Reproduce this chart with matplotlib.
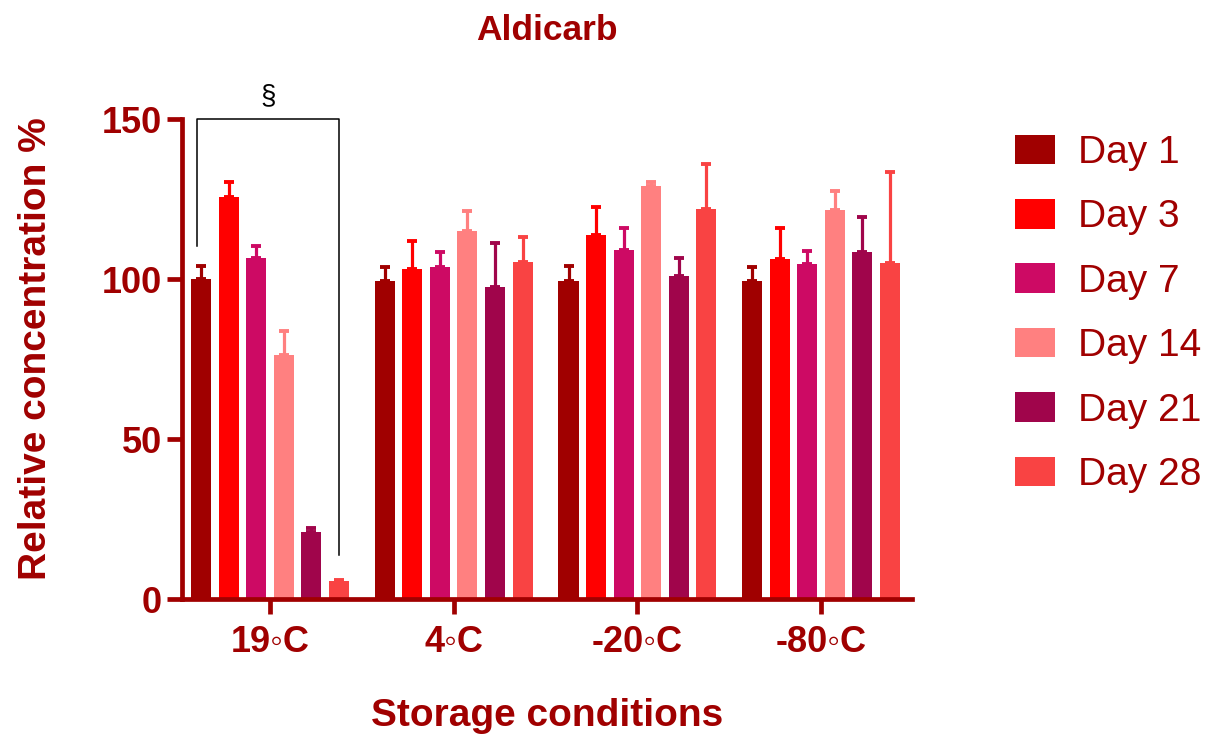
import numpy as np
import matplotlib.pyplot as plt

# storage temperatures (x groups) and sampling days (series)
conditions = ['19\u25e6C', '4\u25e6C', '-20\u25e6C', '-80\u25e6C']
days = ['Day 1', 'Day 3', 'Day 7', 'Day 14', 'Day 21', 'Day 28']

# mean relative concentration (%) per day, one value per condition
day1 = [100.0, 99.5, 99.5, 99.5]
day3 = [125.6, 103.2, 113.8, 106.2]
day7 = [106.6, 103.8, 109.0, 104.7]
day14 = [76.3, 115.0, 129.2, 121.6]
day21 = [20.8, 97.6, 101.0, 108.3]
day28 = [5.6, 105.2, 122.0, 105.0]

# upper error (SD) per day
err1 = [4.0, 4.3, 4.6, 4.2]
err3 = [4.6, 8.7, 8.8, 9.6]
err7 = [3.8, 4.5, 6.9, 4.0]
err14 = [7.4, 6.4, 1.2, 6.0]
err21 = [1.5, 13.7, 5.6, 11.0]
err28 = [0.5, 8.0, 14.0, 28.5]

means = [day1, day3, day7, day14, day21, day28]
errs = [err1, err3, err7, err14, err21, err28]
colors = ['#A00000', '#FF0000', '#CD0A64', '#FF8080', '#A0054B', '#F94343']
dark = '#A00000'

plt.rcParams['font.family'] = ['Liberation Sans', 'DejaVu Sans']

fig = plt.figure(figsize=(12.16, 7.36), dpi=100)
ax = fig.add_axes([0.1497, 0.1861, 0.6003, 0.6522])

x = np.arange(len(conditions))
step = 0.15
width = 0.109

for i in range(len(days)):
    pos = x + (i - 2.5) * step
    ax.bar(pos, means[i], width, color=colors[i], label=days[i], zorder=2)
    ax.errorbar(pos, means[i], yerr=[np.zeros(len(x)), errs[i]], fmt='none',
                ecolor=colors[i], elinewidth=2.3, capsize=3.6, capthick=2.8,
                zorder=1)

# significance bracket over the 19C group
left = -0.397
right = 2.5 * step
ax.plot([left, left, right, right], [110.2, 150, 150, 13.8], color='black',
        lw=1.1, clip_on=False, zorder=3)
ax.text(-0.01, 157, '\u00a7', ha='center', va='center', fontsize=20,
        color='black', clip_on=False)

ax.set_xlim(-0.479, 3.495)
ax.set_ylim(0, 150)
ax.set_yticks([0, 50, 100, 150])
ax.set_xticks(x)
ax.set_xticklabels(conditions)

for s in ['top', 'right']:
    ax.spines[s].set_visible(False)
for s in ['left', 'bottom']:
    ax.spines[s].set_color(dark)
    ax.spines[s].set_linewidth(3.4)

ax.tick_params(axis='both', colors=dark, width=3.4, length=11, labelsize=26)
ax.tick_params(axis='x', pad=8)
for lab in ax.get_xticklabels() + ax.get_yticklabels():
    lab.set_fontweight('bold')

ax.set_xlabel('Storage conditions', fontsize=28, fontweight='bold', color=dark,
              labelpad=27)
ax.set_ylabel('Relative concentration %', fontsize=28, fontweight='bold',
              color=dark, labelpad=34, y=0.521)
ax.set_title('Aldicarb', fontsize=25.5, fontweight='bold', color=dark, pad=57)

leg = ax.legend(loc='upper left', bbox_to_anchor=(1.12, 1.0), frameon=False,
                fontsize=28, handlelength=1.03, handleheight=0.8,
                handletextpad=0.59, labelspacing=0.72, borderaxespad=0)
for t in leg.get_texts():
    t.set_color(dark)

fig.savefig('out.png', dpi=100)
